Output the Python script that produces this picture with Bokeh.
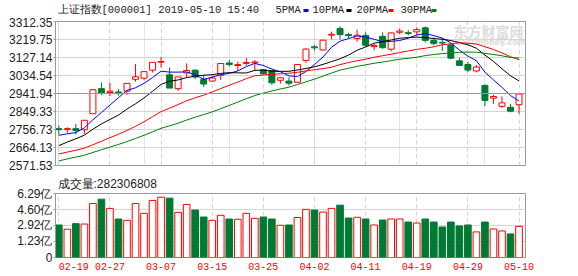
from bokeh.plotting import figure
from bokeh.layouts import column
from bokeh.models import (ColumnDataSource, FixedTicker, PrintfTickFormatter, Label,
                          Span, Range1d, Grid, Title)
from bokeh.core.properties import value
from bokeh.embed import file_html
from bokeh.resources import INLINE

# ---------------- data ----------------
title_text = "上证指数[000001] 2019-05-10 15:40"
legend_names = ["5PMA", "10PMA", "20PMA", "30PMA"]
last_volume = 282306808

dates = ["02-19", "02-20", "02-21", "02-22", "02-25", "02-26", "02-27", "02-28", "03-01",
         "03-04", "03-05", "03-06", "03-07", "03-08", "03-11", "03-12", "03-13", "03-14", "03-15",
         "03-18", "03-19", "03-20", "03-21", "03-22", "03-25", "03-26", "03-27", "03-28", "03-29",
         "04-01", "04-02", "04-03", "04-04", "04-08", "04-09", "04-10", "04-11", "04-12",
         "04-15", "04-16", "04-17", "04-18", "04-19", "04-22", "04-23", "04-24", "04-25", "04-26",
         "04-29", "04-30", "05-06", "05-07", "05-08", "05-09", "05-10"]

# closes of the 29 sessions before the first visible one (for the moving averages)
pre_closes = [2465.29, 2464.36, 2514.87, 2533.09, 2526.46, 2544.34, 2535.10, 2553.83,
              2535.77, 2570.34, 2570.42, 2559.64, 2596.01, 2610.51, 2579.70, 2581.00,
              2591.69, 2601.72, 2596.98, 2594.25, 2575.58, 2584.57, 2618.23, 2653.90,
              2671.89, 2721.07, 2719.70, 2682.39, 2754.36]

opens = [2761, 2757, 2761, 2755, 2838, 2967, 2947, 2950, 2954,
         3015, 3021, 3062, 3103, 3038, 2967, 3048, 3062, 3014, 3006,
         3036, 3099, 3086, 3097, 3100, 3064, 3060, 3010, 3006, 3000,
         3112, 3182, 3166, 3242, 3276, 3245, 3225, 3241, 3183,
         3236, 3170, 3257, 3255, 3259, 3280, 3215, 3205, 3192, 3110,
         3091, 3058, 2984, 2918, 2876, 2871, 2884]
highs = [2778, 2768, 2785, 2806, 2962, 2998, 2998, 2966, 2996,
         3093, 3055, 3103, 3130, 3076, 3028, 3097, 3066, 3036, 3034,
         3097, 3114, 3106, 3124, 3114, 3068, 3063, 3027, 3025, 3093,
         3176, 3191, 3217, 3260, 3288, 3255, 3270, 3257, 3198,
         3257, 3256, 3276, 3268, 3282, 3287, 3230, 3225, 3200, 3125,
         3105, 3088, 2987, 2935, 2927, 2889, 2942]
lows = [2730, 2740, 2730, 2733, 2838, 2934, 2929, 2931, 2934,
        3003, 3010, 3050, 3075, 2969, 2955, 3027, 3016, 2975, 3002,
        3012, 3080, 3058, 3084, 3058, 3040, 2986, 2993, 2982, 2998,
        3099, 3162, 3162, 3221, 3220, 3226, 3208, 3182, 3165,
        3172, 3159, 3247, 3240, 3240, 3204, 3190, 3161, 3118, 3085,
        3052, 3050, 2877, 2889, 2867, 2845, 2838]
closes = [2755.65, 2761.22, 2751.80, 2804.23, 2961.28, 2941.52, 2953.82, 2940.95, 2994.01,
          3027.58, 3054.25, 3102.10, 3106.42, 2969.86, 3026.99, 3060.31, 3026.95, 2990.69, 3021.75,
          3096.42, 3090.98, 3090.64, 3101.46, 3104.15, 3043.03, 2997.10, 3022.72, 2994.94, 3090.76,
          3170.36, 3176.82, 3216.30, 3246.57, 3244.81, 3239.66, 3241.93, 3189.96, 3188.63,
          3177.79, 3253.60, 3263.12, 3250.20, 3270.80, 3215.04, 3198.59, 3201.61, 3123.83, 3086.40,
          3062.50, 3078.34, 2906.46, 2926.39, 2893.76, 2850.95, 2939.21]
# volume, 亿
volumes = [2.97, 2.52, 3.11, 3.07, 5.24, 5.69, 4.72, 3.60, 3.46,
           5.24, 4.20, 5.56, 5.90, 5.80, 4.30, 5.14, 4.54, 3.81, 3.46,
           3.99, 3.60, 3.57, 4.20, 3.67, 3.81, 3.60, 2.94, 2.97, 3.76,
           4.61, 4.54, 4.33, 4.72, 5.06, 3.70, 3.78, 3.60, 2.97,
           3.49, 3.60, 3.60, 3.28, 3.18, 3.60, 3.28, 2.76, 3.28, 2.87,
           2.97, 2.24, 3.28, 2.55, 2.34, 2.03, 2.82]

y_ticks = [2571.53, 2664.13, 2756.73, 2849.33, 2941.94, 3034.54, 3127.14, 3219.75, 3312.35]
vol_ticks = [0, 1.23, 2.92, 4.60, 6.29]
vol_tick_labels = ["0", "1.23亿", "2.92亿", "4.60亿", "6.29亿"]
x_tick_labels = ["02-19", "02-27", "03-07", "03-15", "03-25", "04-02", "04-11", "04-19", "04-29", "05-10"]

# ---------------- styling / layout constants ----------------
W = 578
BL, BR = 55, 53                 # left / right borders around the plot frames
RED = "#ff0000"
GREEN = "#007a33"
FRAME = "#999999"
GRID = "#d4d4d4"
TXT = "#222222"
ma_colors = ["#0000ff", "#000000", "#ff0000", "#008000"]
ma_periods = [5, 10, 20, 30]
DATE_FONT_PX = 10

# ---------------- derived ----------------
x = list(range(len(dates)))
up = [c >= o for o, c in zip(opens, closes)]
colors = [RED if u else GREEN for u in up]
fills = ["white" if u else GREEN for u in up]
src = ColumnDataSource(dict(
    x=x, o=opens, h=highs, l=lows, c=closes,
    top=[max(o, c) for o, c in zip(opens, closes)],
    bot=[min(o, c) for o, c in zip(opens, closes)],
    color=colors, fill=fills, vol=volumes))

full = pre_closes + closes
n0 = len(pre_closes)


def moving_avg(n):
    return [sum(full[n0 + i - n + 1:n0 + i + 1]) / n for i in range(len(closes))]


tick_pos = [dates.index(d) for d in x_tick_labels]
xr = Range1d(-0.39, 54.76)
scale = (W - BL - BR) / (xr.end - xr.start)      # px per session


def style_yaxis(f):
    f.yaxis.axis_line_color = FRAME
    f.yaxis.major_tick_line_color = FRAME
    f.yaxis.major_tick_out = 2
    f.yaxis.major_tick_in = 0
    f.yaxis.minor_tick_line_color = None
    f.yaxis.major_label_standoff = 1
    f.yaxis.major_label_text_font = "Liberation Sans"
    f.yaxis.major_label_text_font_size = "12px"
    f.yaxis.major_label_text_color = TXT
    f.ygrid.grid_line_color = GRID
    f.background_fill_color = "white"
    f.border_fill_color = "white"
    f.outline_line_color = FRAME


# ---------------- header: title + legend (frame aligned with the charts, px units) ----------------
hdr = figure(width=W, height=17, output_backend="svg", toolbar_location=None, title=None,
             x_axis_location=None, y_axis_location=None,
             min_border_left=BL, min_border_right=BR, min_border_top=0, min_border_bottom=0,
             x_range=Range1d(BL, W - BR), y_range=Range1d(17, 0))
hdr.outline_line_color = None
hdr.background_fill_color = "white"
hdr.border_fill_color = "white"
hdr.grid.visible = False
hdr.text(x=[57], y=[9], text=[title_text], text_baseline="middle", text_align="left",
         text_font=value("Liberation Mono"), text_font_size="10.5px", text_color=TXT)
leg_text_x = [275, 312, 356, 400]
leg_dash_x = [303, 346, 388, 431]
hdr.text(x=leg_text_x, y=[9] * 4, text=legend_names, text_baseline="middle", text_align="left",
         text_font=value("Liberation Mono"), text_font_size="10.5px", text_color=TXT)
hdr.rect(x=[d + 2.5 for d in leg_dash_x], y=[10] * 4, width=5, height=3,
         fill_color=ma_colors, line_color=None)

# ---------------- main (candles) ----------------
p = figure(width=W, height=155, output_backend="svg", toolbar_location=None,
           title=None, x_range=xr, y_range=Range1d(y_ticks[0], y_ticks[-1]),
           x_axis_location=None, min_border_left=BL, min_border_right=BR,
           min_border_top=4, min_border_bottom=7)
p.yaxis.ticker = FixedTicker(ticks=y_ticks)
p.yaxis.formatter = PrintfTickFormatter(format="%.2f")
style_yaxis(p)
p.add_layout(Grid(dimension=0, ticker=FixedTicker(ticks=tick_pos),
                  grid_line_color=GRID, grid_line_dash="4 3"))
p.add_layout(Span(location=y_ticks[4], dimension="width", line_color=FRAME, line_width=1))

# watermark
p.add_layout(Label(x=xr.start, y=y_ticks[-1], x_offset=398, y_offset=-9, text="东方财富网",
                   text_font="Noto Sans CJK SC", text_font_size="14px", text_font_style="bold",
                   text_color="#dcdcdc", text_baseline="middle", level="underlay"))
p.add_layout(Label(x=xr.start, y=y_ticks[-1], x_offset=400, y_offset=-21, text="eastmoney.com",
                   text_font="DejaVu Sans", text_font_size="8px", text_font_style="bold",
                   text_color="#dcdcdc", text_baseline="middle", level="underlay"))

p.segment(x0="x", y0="l", x1="x", y1="h", line_color="color", line_width=1, source=src)
p.vbar(x="x", top="top", bottom="bot", width=0.7, fill_color="fill", line_color="color",
       line_width=1, source=src)
for n, col in zip(ma_periods, ma_colors):
    p.line(x, moving_avg(n), line_color=col, line_width=1)

# ---------------- volume ----------------
vol_base = vol_ticks[1] - (vol_ticks[2] - vol_ticks[1])
vol_tick_vals = [vol_base] + vol_ticks[1:]
q = figure(width=W, height=276 - 17 - 155, output_backend="svg", toolbar_location=None,
           x_range=xr, y_range=Range1d(vol_base, vol_ticks[-1]),
           min_border_left=BL, min_border_right=BR, min_border_top=20, min_border_bottom=19)
q.title = Title(text="成交量:" + str(last_volume), align="left", offset=2, standoff=5,
                text_font="Liberation Sans", text_font_size="12px", text_font_style="normal",
                text_color=TXT)
q.yaxis.ticker = FixedTicker(ticks=vol_tick_vals)
q.yaxis.major_label_overrides = {v: t for v, t in zip(vol_tick_vals, vol_tick_labels)}
style_yaxis(q)

# date labels on the bottom axis; the first one starts at its gridline instead of centring on it
first_shift = 0.5 * len(x_tick_labels[0]) * 0.6 * DATE_FONT_PX / scale
label_pos = [tick_pos[0] + first_shift] + tick_pos[1:]
q.xaxis.ticker = FixedTicker(ticks=label_pos)
q.xaxis.major_label_overrides = {v: t for v, t in zip(label_pos, x_tick_labels)}
q.xaxis.axis_line_color = None
q.xaxis.major_tick_line_color = None
q.xaxis.minor_tick_line_color = None
q.xaxis.major_tick_out = 0
q.xaxis.major_tick_in = 0
q.xaxis.major_label_standoff = 5
q.xaxis.major_label_text_font = "Liberation Mono"
q.xaxis.major_label_text_font_size = str(DATE_FONT_PX) + "px"
q.xaxis.major_label_text_color = RED
q.xgrid.grid_line_color = None
q.add_layout(Grid(dimension=0, ticker=FixedTicker(ticks=tick_pos),
                  grid_line_color=GRID, grid_line_dash="4 3"))
q.vbar(x="x", top="vol", bottom=vol_base, width=0.78, fill_color="fill", line_color="color",
       line_width=1, source=src)

layout = column(hdr, p, q, spacing=0)
open("out.html", "w").write(file_html(layout, INLINE))
